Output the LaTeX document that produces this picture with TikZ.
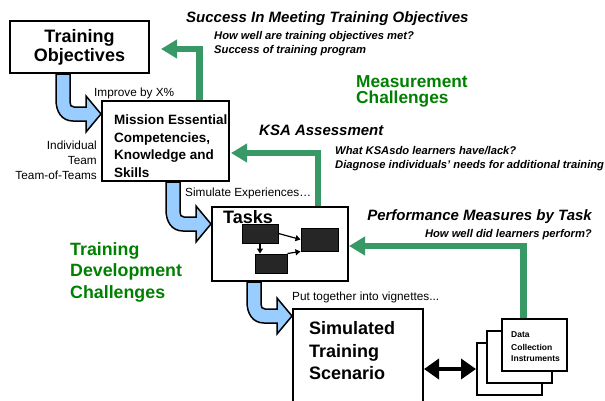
\documentclass[tikz,border=0pt]{standalone}
\usepackage{fontspec}
\setmainfont{Liberation Sans}
\usepackage{tikz}
\usetikzlibrary{arrows.meta,positioning,calc}

\definecolor{fbgreen}{RGB}{56,153,102}
\definecolor{chgreen}{RGB}{0,128,0}
\definecolor{flowblue}{RGB}{153,204,255}

\tikzset{
  pics/flowarrow/.style={code={
    \filldraw[fill=flowblue, draw=black, line width=1.5pt, line join=miter]
      (-7,0) -- (-7,{#1-14}) .. controls (-7,{#1-2}) and (-1,{#1+7}) .. (10,{#1+7})
      -- (23,{#1+7}) -- (23,{#1+18}) -- (38,#1) -- (23,{#1-18}) -- (23,{#1-7})
      -- (11,{#1-7}) .. controls (8,{#1-7}) and (7,{#1-9}) .. (7,{#1-12})
      -- (7,0) -- cycle;
  }}
}

\begin{document}
\begin{tikzpicture}[x=1pt, y=-1pt,
  box/.style={draw, line width=2pt, inner sep=0pt},
  page/.style={draw, fill=white, line width=2pt, minimum width=65pt,
    minimum height=52pt, inner sep=0pt, anchor=north west},
  taskbox/.style={draw, fill=black!85, line width=1pt, inner sep=0pt},
  taskarrow/.style={line width=1.2pt, -{Triangle[width=6pt,length=5pt]}},
  fbarrow/.style={draw=fbgreen, line width=6.5pt, -{Triangle[width=18pt,length=16pt]}},
  dblarrow/.style={line width=4.5pt,
    {Triangle[width=20pt,length=15pt]}-{Triangle[width=20pt,length=15pt]}},
  bigtitle/.style={font=\fontsize{18}{19}\selectfont\bfseries},
  headline/.style={inner sep=0pt, font=\fontsize{15}{17}\selectfont\bfseries\itshape},
  subline/.style={inner sep=0pt, align=left, font=\fontsize{11.2}{14}\selectfont\bfseries\itshape},
  plain/.style={inner sep=0pt, font=\fontsize{11.8}{15}\selectfont},
  challenge/.style={inner sep=0pt, align=left, text=chgreen,
    font=\fontsize{17.3}{16}\selectfont\bfseries}]

\useasboundingbox (0,0) rectangle (605,400);

% boxes
\node [box, bigtitle, align=center, minimum width=139pt, minimum height=52pt]
  (tobj) at (79.5,47) {Training\\Objectives};
\node [box, minimum width=127pt, minimum height=80pt] (mission) at (165.5,141) {};
\node [inner sep=0pt, anchor=west, align=left, font=\fontsize{13.5}{17.5}\selectfont\bfseries]
  (mission-text) at (114,146) {Mission Essential\\Competencies,\\Knowledge and\\Skills};
\node [box, minimum width=136pt, minimum height=74pt] (tasks) at (280,244) {};
\node [bigtitle, inner sep=0pt, anchor=west] (tasks-title) at (223,217) {Tasks};
\node [box, minimum width=130pt, minimum height=100pt, anchor=north west]
  (scenario) at (292,308) {};
\node [inner sep=0pt, anchor=west, align=left, font=\fontsize{18}{22.5}\selectfont\bfseries]
  (scenario-text) at (309,351) {Simulated\\Training\\Scenario};

% tasks inside
\node [taskbox, minimum width=36pt, minimum height=19pt] (task-a) at (260,233.5) {};
\node [taskbox, minimum width=32pt, minimum height=19pt] (task-b) at (271,263.5) {};
\node [taskbox, minimum width=37pt, minimum height=23pt] (task-c) at (319.5,239.5) {};
\draw [taskarrow] (task-a.east) -- (task-c.west);
\draw [taskarrow] (task-a.south) -- (task-a.south |- task-b.north);
\draw [taskarrow] (task-b.north east) -- (task-c.south west);

% data collection pages
\foreach \n/\x/\y in {3/476/342, 2/486/330, 1/501/318}
  \node [page] (page-\n) at (\x,\y) {};
\foreach \l [count=\i] in {Data, Collection, Instruments}
  \node [inner sep=0pt, anchor=west, font=\fontsize{8.5}{10}\selectfont\bfseries]
    (dci-\i) at (511,323+12*\i) {\l};

% flow arrows
\pic at ($(mission.west |- tobj.south)+(-38,0)$) {flowarrow=40};
\pic at ($(tasks.west |- mission.south)+(-38,0)$) {flowarrow=42};
\pic at ($(scenario.west |- tasks.south)+(-38,0)$) {flowarrow=34};

% feedback arrows
\draw [fbarrow] ([xshift=34pt]mission.north) |- ([xshift=11pt,yshift=-2pt]tobj.east);
\draw [fbarrow] ([xshift=38pt]tasks.north) |- ([xshift=1pt,yshift=-12pt]mission.east);
\draw [fbarrow] ([xshift=-11pt]page-1.north) |- ([yshift=-2pt]tasks.east);
\draw [dblarrow] (page-3.west -| scenario.east) -- (page-3.west);

% labels
\node [headline, anchor=west] (success) at (186,19) {Success In Meeting Training Objectives};
\node [subline, anchor=west] (success-sub) at (214,44)
  {How well are training objectives met?\\Success of training program};
\node [challenge, anchor=west] (measure) at (356,91) {Measurement\\Challenges};
\node [headline, anchor=west] (ksa) at (259,130) {KSA Assessment};
\node [subline, anchor=west] (ksa-sub) at (335,159)
  {What KSAsdo learners have/lack?\\Diagnose individuals' needs for additional training};
\node [headline, anchor=east] (perf) at (592,217) {Performance Measures by Task};
\node [subline, anchor=east] (perf-sub) at (592,235) {How well did learners perform?};
\node [challenge, anchor=west, font=\fontsize{17.8}{21.5}\selectfont\bfseries]
  (develop) at (70,272) {Training\\Development\\Challenges};

\node [plain, anchor=west] (improve) at (94,93) {Improve by X\%};
\node [plain, anchor=west] (simexp) at (185,193) {Simulate Experiences…};
\node [plain, anchor=west] (vign) at (292,297) {Put together into vignettes...};
\foreach \l [count=\i] in {Individual, Team, Team-of-Teams}
  \node [plain, anchor=east] (level-\i) at (97,130+15*\i) {\l};

\end{tikzpicture}
\end{document}
